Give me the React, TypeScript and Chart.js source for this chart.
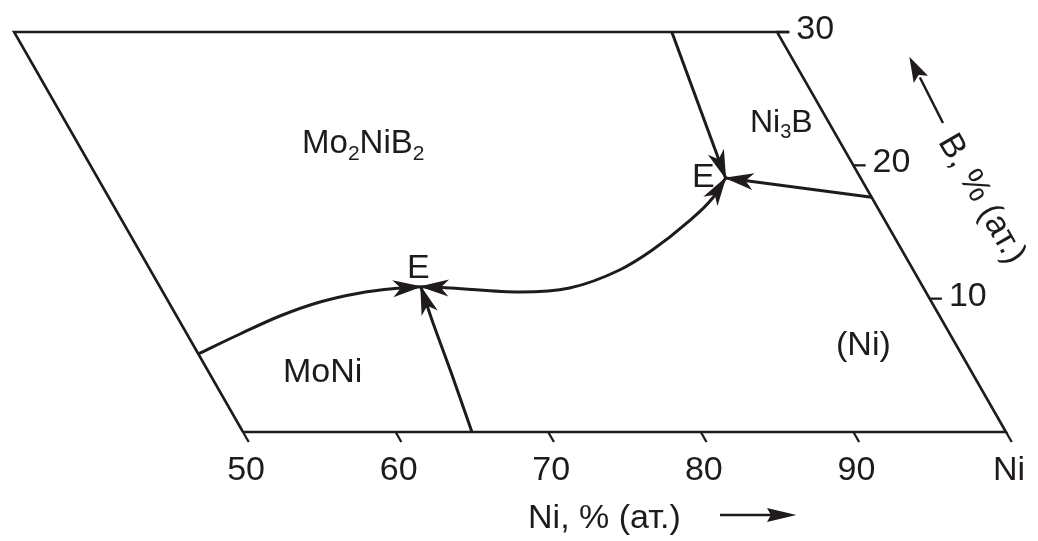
import { useEffect, useRef } from "react";
import { Chart, registerables } from "chart.js";

Chart.register(...registerables);

const INK = "#1f1b1c";
const FONT = '"Liberation Sans", Arial, Helvetica, sans-serif';

// Ni axis (bottom edge, B = 0)
const niTickValues = [50, 60, 70, 80, 90, 100];
const niTickLabels = ["50", "60", "70", "80", "90", "Ni"];
// B axis (right edge, Ni + B = 100)
const bTickValues = [10, 20, 30];
const bTickLabels = ["10", "20", "30"];

// section outline: B = 0, Ni + B = 100, B = 30, Mo = 50
const frameNi = [50, 100, 70, 20, 50];
const frameB = [0, 0, 30, 30, 0];

// univariant lines, at.% Ni and at.% B
const moNiLineNi = [44.12, 46.13, 48.07, 50.17, 52.46, 54.58, 56.2];
const moNiLineB = [5.85, 7.35, 8.7, 9.75, 10.43, 10.76, 10.9];
const baseLineNi = [65, 61.5, 58.0, 56.2];
const baseLineB = [0, 4.35, 8.63, 10.9];
const saddleLineNi = [56.2, 58.2, 62.9, 66.0, 68.6, 70.0, 71.25, 72.0, 72.1];
const saddleLineB = [10.9, 10.8, 10.5, 10.8, 12.15, 13.65, 15.68, 17.55, 19.05];
const topLineNi = [63.1, 72.1];
const topLineB = [30, 19.05];
const sideLineNi = [82.4, 72.1];
const sideLineB = [17.6, 19.05];

// composition -> plot coordinates of the equilateral Gibbs triangle
const toPoint = (ni: number, b: number) => ({ x: ni + b / 2, y: b });
const path = (ni: number[], b: number[]) => ni.map((n, i) => toPoint(n, b[i]));

type Arrow = "none" | "end" | "both";

function lineSet(
  data: { x: number; y: number }[],
  width: number,
  smooth: boolean,
  arrows: Arrow
) {
  return {
    data,
    showLine: true,
    borderColor: INK,
    backgroundColor: INK,
    borderWidth: width,
    pointRadius: 0,
    tension: smooth ? 0.4 : 0,
    cubicInterpolationMode: smooth ? "monotone" : "default",
    fill: false,
    arrows,
  } as any;
}

function drawHead(
  ctx: CanvasRenderingContext2D,
  tx: number,
  ty: number,
  dx: number,
  dy: number,
  len = 28,
  half = 8.5,
  notch = 8
) {
  const l = Math.hypot(dx, dy) || 1;
  const ux = dx / l;
  const uy = dy / l;
  const nx = -uy;
  const ny = ux;
  const bx = tx - ux * len;
  const by = ty - uy * len;
  ctx.beginPath();
  ctx.moveTo(tx + ux * 1.5, ty + uy * 1.5);
  ctx.lineTo(bx + nx * half, by + ny * half);
  ctx.lineTo(tx - ux * (len - notch), ty - uy * (len - notch));
  ctx.lineTo(bx - nx * half, by - ny * half);
  ctx.closePath();
  ctx.fill();
}

function drawChem(ctx: CanvasRenderingContext2D, parts: [string, boolean][], x: number, y: number, size: number) {
  let cx = x;
  for (const [t, sub] of parts) {
    ctx.font = `${sub ? Math.round(size * 0.64) : size}px ${FONT}`;
    ctx.fillText(t, cx, sub ? y + size * 0.2 : y);
    cx += ctx.measureText(t).width;
  }
}

const arrowPlugin = {
  id: "curveArrows",
  afterDatasetsDraw(chart: any) {
    const ctx: CanvasRenderingContext2D = chart.ctx;
    ctx.save();
    ctx.fillStyle = INK;
    chart.data.datasets.forEach((ds: any, i: number) => {
      if (!ds.arrows || ds.arrows === "none") return;
      const pts = chart.getDatasetMeta(i).data;
      const n = pts.length;
      if (n < 2) return;
      const last = pts[n - 1];
      const prev = pts[n - 2];
      let fx = last.cp1x, fy = last.cp1y;
      if (fx === undefined || Math.hypot(last.x - fx, last.y - fy) < 1) { fx = prev.x; fy = prev.y; }
      drawHead(ctx, last.x, last.y, last.x - fx, last.y - fy);
      if (ds.arrows === "both") {
        const first = pts[0];
        const second = pts[1];
        let gx = first.cp2x, gy = first.cp2y;
        if (gx === undefined || Math.hypot(first.x - gx, first.y - gy) < 1) { gx = second.x; gy = second.y; }
        drawHead(ctx, first.x, first.y, first.x - gx, first.y - gy);
      }
    });
    ctx.restore();
  },
};

const textPlugin = {
  id: "diagramText",
  afterDraw(chart: any) {
    const ctx: CanvasRenderingContext2D = chart.ctx;
    const sx = chart.scales.x;
    const sy = chart.scales.y;
    const px = (x: number) => sx.getPixelForValue(x);
    const py = (y: number) => sy.getPixelForValue(y);
    ctx.save();
    ctx.fillStyle = INK;
    ctx.strokeStyle = INK;
    ctx.textBaseline = "alphabetic";

    // Ni tick labels under the slanted tick marks
    ctx.font = `34px ${FONT}`;
    ctx.textAlign = "center";
    niTickValues.forEach((v, i) => {
      ctx.fillText(niTickLabels[i], px(v + 0.2), py(-3.6));
    });

    // B tick labels right of the edge ticks
    ctx.textAlign = "left";
    bTickValues.forEach((v, i) => {
      const p = toPoint(100 - v + 0.8, v);
      ctx.fillText(bTickLabels[i], px(p.x) + 7, py(v) + 7);
    });

    // axis titles
    ctx.fillText("Ni, % (ат.)", px(68.68), py(-7.2));
    const ax0 = px(81.26), ax1 = px(86.17), ay = py(-6.23);
    ctx.lineWidth = 2.5;
    ctx.beginPath();
    ctx.moveTo(ax0, ay);
    ctx.lineTo(ax1 - 20, ay);
    ctx.stroke();
    drawHead(ctx, ax1, ay, 1, 0, 28, 7, 4);

    const e0 = toPoint(100, 0), e1 = toPoint(70, 30);
    const ang = Math.atan2(py(e0.y) - py(e1.y), px(e0.x) - px(e1.x));
    ctx.save();
    ctx.translate(px(98.0) + 6, py(17.1) - 5);
    ctx.rotate(ang);
    ctx.textAlign = "center";
    ctx.textBaseline = "middle";
    ctx.fillText("B, % (ат.)", 0, 0);
    ctx.restore();
    const bx0 = px(95.87), by0 = py(23.18), bx1 = px(93.71), by1 = py(28.05);
    ctx.beginPath();
    ctx.moveTo(bx0, by0);
    ctx.lineTo(bx0 + (bx1 - bx0) * 0.7, by0 + (by1 - by0) * 0.7);
    ctx.stroke();
    drawHead(ctx, bx1, by1, bx1 - bx0, by1 - by0, 24, 8, 5);

    // phase fields and eutectic points
    ctx.textAlign = "left";
    drawChem(ctx, [["Mo", false], ["2", true], ["NiB", false], ["2", true]], px(53.87), py(20.93), 33);
    drawChem(ctx, [["Ni", false], ["3", true], ["B", false]], px(83.22), py(22.5), 32);
    ctx.font = `34px ${FONT}`;
    ctx.fillText("E", px(79.42), py(18.4));
    ctx.fillText("E", px(60.75), py(11.55));
    ctx.fillText("MoNi", px(52.62), py(3.75));
    ctx.fillText("(Ni)", px(88.86), py(5.78));
    ctx.restore();
  },
};

export default function App() {
  const canvasRef = useRef<HTMLCanvasElement | null>(null);

  useEffect(() => {
    const canvas = canvasRef.current;
    if (!canvas) return;

    const datasets: any[] = [];
    datasets.push(lineSet(path(frameNi, frameB), 2.6, false, "none"));
    // top edge runs on to the 30 % tick
    datasets.push(lineSet([toPoint(70, 30), toPoint(70.8, 30)], 2.6, false, "none"));
    niTickValues.forEach((v) => {
      datasets.push(lineSet([toPoint(v, 0), toPoint(v + 0.75, -0.75)], 2.3, false, "none"));
    });
    bTickValues.forEach((v) => {
      datasets.push(lineSet([toPoint(100 - v, v), toPoint(100 - v + 0.8, v)], 2.3, false, "none"));
    });
    datasets.push(lineSet(path(moNiLineNi, moNiLineB), 3, true, "end"));
    datasets.push(lineSet(path(baseLineNi, baseLineB), 3, true, "end"));
    datasets.push(lineSet(path(saddleLineNi, saddleLineB), 3, true, "both"));
    datasets.push(lineSet(path(topLineNi, topLineB), 3, false, "end"));
    datasets.push(lineSet(path(sideLineNi, sideLineB), 3, false, "end"));

    const xPerPx = 1 / 15.26;
    const yPerPx = 1 / 13.333;
    const xMin = 50 - 243 * xPerPx;
    const yMax = 432 * yPerPx;

    const chart = new Chart(canvas, {
      type: "scatter",
      data: { datasets },
      options: {
        responsive: false,
        animation: false,
        layout: { padding: 0 },
        plugins: { legend: { display: false }, tooltip: { enabled: false } },
        elements: { point: { radius: 0 } },
        scales: {
          x: { type: "linear", display: false, min: xMin, max: xMin + 1038 * xPerPx },
          y: { type: "linear", display: false, min: yMax - 541 * yPerPx, max: yMax },
        },
      },
      plugins: [arrowPlugin, textPlugin],
    });
    return () => chart.destroy();
  }, []);

  return (
    <div style={{ position: "fixed", left: 0, top: 0, width: 1038, height: 541, background: "#fff" }}>
      <canvas ref={canvasRef} width={1038} height={541} style={{ display: "block" }} />
    </div>
  );
}
